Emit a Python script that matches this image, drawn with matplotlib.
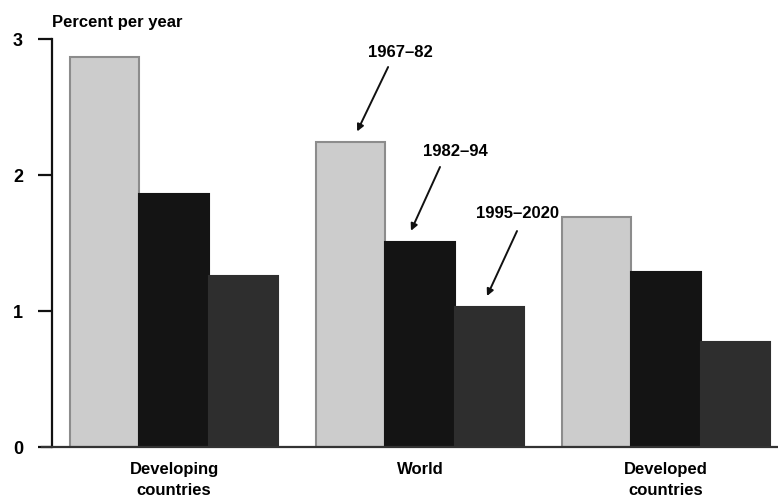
import matplotlib
matplotlib.use("Agg")
import matplotlib.pyplot as plt
import numpy as np

categories = ["Developing\ncountries", "World", "Developed\ncountries"]
periods = ["1967\u201382", "1982\u201394", "1995\u20132020"]
v1967 = [2.87, 2.24, 1.69]
v1982 = [1.86, 1.51, 1.29]
v1995 = [1.26, 1.03, 0.77]
yticks = [0, 1, 2, 3]

plt.rcParams['font.family'] = ["Liberation Sans", "DejaVu Sans"]

fig = plt.figure(figsize=(7.78, 4.98), dpi=100)
ax = fig.add_axes([42/778, 51/498, 736/778, 408/498])

x = np.arange(len(categories))
w = 0.282
series = [v1967, v1982, v1995]
fills = ["#cccccc", "#141414", "#2e2e2e"]
edges = ["#8c8c8c", "#141414", "#2e2e2e"]
for i, (vals, fc, ec) in enumerate(zip(series, fills, edges)):
    ax.bar(x + (i - 1) * w, vals, w, color=fc, edgecolor=ec, linewidth=1.5, zorder=2)

ax.set_xlim(-0.537, 2.455)
ax.set_ylim(0, 3)
for s in ["top", "right"]:
    ax.spines[s].set_visible(False)
ax.spines["left"].set_position(("data", -0.496))
ax.spines["left"].set_linewidth(1.6)
ax.spines["left"].set_color("#111111")
ax.spines["bottom"].set_linewidth(1.6)
ax.spines["bottom"].set_color("#333333")
ax.spines["bottom"].set_zorder(3)

ax.set_yticks(yticks)
ax.set_yticklabels([str(t) for t in yticks], fontsize=13, fontweight="bold")
ax.tick_params(axis="y", length=10, width=1.6, color="#111111", pad=11)
ax.set_xticks(x)
ax.set_xticklabels(categories, fontsize=12, fontweight="bold", linespacing=1.45)
ax.tick_params(axis="x", length=0, pad=11)

fig.text(52/778, 1 - 23/498, "Percent per year", fontsize=12, fontweight="bold",
         ha="left", va="center")

# annotations: (text pos, arrow tail, arrow head) in data coords
texts = [(0.919, 2.90), (1.142, 2.17), (1.394, 1.72)]
tails = [(0.870, 2.794), (1.081, 2.059), (1.394, 1.588)]
heads = [(0.744, 2.32), (0.963, 1.59), (1.272, 1.11)]
for lab, tp, tl, hd in zip(periods, texts, tails, heads):
    ax.text(tp[0], tp[1], lab, fontsize=12, fontweight="bold", ha="center", va="center")
    ax.annotate("", xy=hd, xytext=tl,
                arrowprops=dict(arrowstyle="-|>", color="#111111", lw=1.4,
                                mutation_scale=10, shrinkA=0, shrinkB=0))

fig.savefig("out.png", dpi=100)
